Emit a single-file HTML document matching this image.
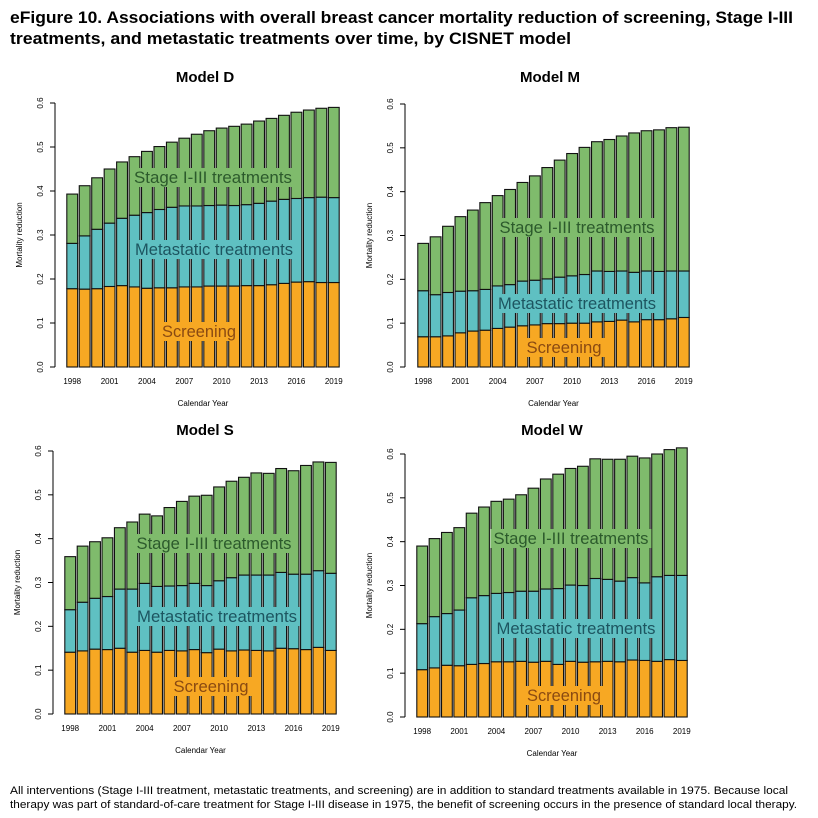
<!DOCTYPE html>
<html><head><meta charset="utf-8">
<style>
body{margin:0;background:#fff;width:818px;height:818px;overflow:hidden;font-family:"Liberation Sans",Arial,sans-serif}
svg{position:absolute;left:0;top:0}
</style></head>
<body>
<svg id="fig" width="818" height="818" viewBox="0 0 818 818">
<text x="10" y="23" font-size="17" font-weight="bold" textLength="783" lengthAdjust="spacingAndGlyphs">eFigure 10. Associations with overall breast cancer mortality reduction of screening, Stage I-III</text>
<text x="10" y="44" font-size="17" font-weight="bold" textLength="561" lengthAdjust="spacingAndGlyphs">treatments, and metastatic treatments over time, by CISNET model</text>
<text x="10" y="794" font-size="11" textLength="778" lengthAdjust="spacingAndGlyphs">All interventions (Stage I-III treatment, metastatic treatments, and screening) are in addition to standard treatments available in 1975. Because local</text>
<text x="10" y="808" font-size="11" textLength="787" lengthAdjust="spacingAndGlyphs">therapy was part of standard-of-care treatment for Stage I-III disease in 1975, the benefit of screening occurs in the presence of standard local therapy.</text>
</svg>
<script>
// Categories
const years = [1998,1999,2000,2001,2002,2003,2004,2005,2006,2007,2008,2009,2010,2011,2012,2013,2014,2015,2016,2017,2018,2019];
const tickLabels = ["1998","2001","2004","2007","2010","2013","2016","2019"];
const yTicks = [0,0.1,0.2,0.3,0.4,0.5,0.6];

// Model D: screening, screening+metastatic (cumulative), overall total
const dScreening = [.178,.177,.178,.183,.185,.182,.179,.180,.180,.182,.182,.184,.184,.184,.185,.185,.187,.190,.193,.194,.192,.192];
const dWithMet = [.281,.298,.313,.327,.338,.345,.351,.358,.363,.366,.366,.367,.368,.367,.369,.372,.377,.381,.383,.385,.386,.385];
const dTotal = [.393,.412,.430,.450,.466,.478,.490,.501,.511,.520,.529,.537,.543,.547,.552,.559,.565,.572,.579,.584,.588,.590];
// Model M
const mScreening = [.069,.069,.071,.078,.082,.084,.088,.091,.094,.096,.099,.099,.100,.100,.103,.104,.107,.103,.108,.108,.110,.113];
const mWithMet = [.174,.165,.170,.173,.174,.177,.185,.188,.196,.198,.201,.205,.208,.211,.219,.218,.219,.216,.219,.218,.219,.219];
const mTotal = [.282,.297,.321,.343,.358,.375,.391,.405,.421,.436,.455,.472,.487,.501,.514,.519,.527,.534,.539,.541,.546,.547];
// Model S
const sScreening = [.141,.144,.148,.147,.150,.141,.145,.141,.145,.144,.147,.140,.148,.144,.146,.145,.144,.150,.149,.147,.152,.145];
const sWithMet = [.238,.255,.264,.268,.285,.285,.298,.291,.292,.293,.298,.293,.304,.311,.317,.317,.317,.323,.319,.319,.327,.321];
const sTotal = [.359,.383,.393,.402,.425,.438,.456,.452,.471,.485,.497,.499,.518,.531,.540,.550,.549,.560,.555,.567,.575,.574];
// Model W
const wScreening = [.108,.112,.118,.117,.120,.122,.126,.126,.127,.125,.127,.120,.127,.125,.126,.127,.126,.130,.129,.127,.131,.129];
const wWithMet = [.213,.229,.236,.244,.272,.277,.282,.284,.287,.287,.292,.293,.301,.300,.316,.314,.310,.318,.306,.320,.323,.323];
const wTotal = [.390,.407,.421,.432,.465,.479,.492,.497,.507,.522,.543,.554,.567,.572,.589,.588,.588,.595,.591,.600,.610,.614];

const NS="http://www.w3.org/2000/svg";
const svg=document.getElementById('fig');
const C={scr:"#f7a823",met:"#5fc0c2",stg:"#7fbb6c"};
function mk(tag,attrs,parent){const e=document.createElementNS(NS,tag);for(const k in attrs)e.setAttribute(k,attrs[k]);(parent||svg).appendChild(e);return e;}

const panels=[
 {id:"d",title:"Model D",tx:205,ty:82,ax:55,y0:367,y6:103,bx0:66,bx1:340,scr:dScreening,met:dWithMet,tot:dTotal,
  lab:[[213,177,"Stage I-III treatments","#2c5a2c",C.stg,158],[214,249,"Metastatic treatments","#1d5560",C.met,158],[199,331,"Screening","#8a4a12",C.scr,74]]},
 {id:"m",title:"Model M",tx:550,ty:82,ax:405,y0:367,y6:104,bx0:417,bx1:690,scr:mScreening,met:mWithMet,tot:mTotal,
  lab:[[577,227,"Stage I-III treatments","#2c5a2c",C.stg,155],[577,303,"Metastatic treatments","#1d5560",C.met,158],[564,347,"Screening","#8a4a12",C.scr,75]]},
 {id:"s",title:"Model S",tx:205,ty:435,ax:53,y0:714,y6:451,bx0:64,bx1:337,scr:sScreening,met:sWithMet,tot:sTotal,
  lab:[[214,543,"Stage I-III treatments","#2c5a2c",C.stg,155],[217,616,"Metastatic treatments","#1d5560",C.met,160],[211,686,"Screening","#8a4a12",C.scr,75]]},
 {id:"w",title:"Model W",tx:552,ty:435,ax:405,y0:717,y6:454,bx0:416,bx1:688,scr:wScreening,met:wWithMet,tot:wTotal,
  lab:[[571,538,"Stage I-III treatments","#2c5a2c",C.stg,155],[576,628,"Metastatic treatments","#1d5560",C.met,159],[564,695,"Screening","#8a4a12",C.scr,74]]}
];

panels.forEach(p=>{
  const g=mk('g',{});
  
  
  const yScale=v=>p.y0+(p.y6-p.y0)*v/0.6;
  const pitch=(p.bx1-p.bx0)/years.length;
  const bw=pitch*0.87;
  const xScale=i=>p.bx0+i*pitch+(pitch-bw)/2;
  const t=mk('text',{x:p.tx,y:p.ty,'font-size':15,'font-weight':'bold','text-anchor':'middle'},g);
  t.textContent=p.title;
  
  
  const ax=mk('line',{x1:p.ax,x2:p.ax,y1:yScale(0),y2:yScale(0.6),stroke:'#000','stroke-width':1},g);
  
  
  yTicks.forEach(v=>{
    const y=yScale(v);
    const tk=mk('line',{x1:p.ax-5,x2:p.ax,y1:y,y2:y,stroke:'#000'},g);
    
    
    const tl=mk('text',{x:p.ax-12,y:y,'font-size':8,'text-anchor':'middle',transform:`rotate(-90 ${p.ax-12} ${y})`},g);
    tl.textContent=v.toFixed(1);
    
    
  });
  const yt=mk('text',{x:p.ax-33,y:(yScale(0)+yScale(0.6))/2,'font-size':8,'text-anchor':'middle',transform:`rotate(-90 ${p.ax-33} ${(yScale(0)+yScale(0.6))/2})`},g);
  yt.textContent="Mortality reduction";
  
  
  years.forEach((yr,i)=>{
    const x=xScale(i);
    const segs=[[0,p.scr[i],C.scr,'screening'],[p.scr[i],p.met[i],C.met,'metastatic'],[p.met[i],p.tot[i],C.stg,'stage']];
    segs.forEach(s=>{
      const r=mk('rect',{x:x,y:yScale(s[1]),width:bw,height:yScale(s[0])-yScale(s[1]),fill:s[2],stroke:'#111','stroke-width':1.1},g);
      
      
    });
    if(tickLabels.includes(String(yr))){
      const xl=mk('text',{x:x+bw/2,y:p.y0+17,'font-size':8,'text-anchor':'middle'},g);
      xl.textContent=String(yr);
      
      
    }
  });
  const xt=mk('text',{x:(p.bx0+p.bx1)/2,y:p.y0+39,'font-size':8,'text-anchor':'middle'},g);
  xt.textContent="Calendar Year";
  
  
  p.lab.forEach(l=>{
    const tx=mk('text',{x:l[0],y:l[1]+6,'font-size':17,'text-anchor':'middle',fill:l[3],textLength:l[5],lengthAdjust:'spacingAndGlyphs'},g);
    tx.textContent=l[2];
    const bb=tx.getBBox();
    const bg=mk('rect',{x:bb.x-3,y:bb.y,width:bb.width+6,height:bb.height,fill:l[4]},g);
    g.insertBefore(bg,tx);
    
    
    
    
  });
});
</script>
</body></html>
